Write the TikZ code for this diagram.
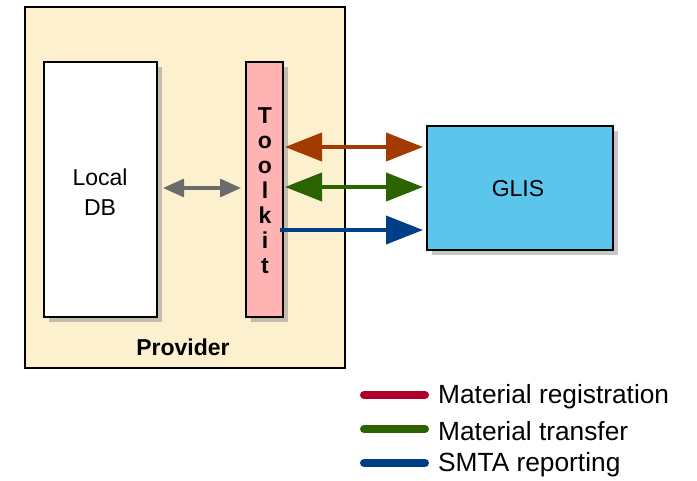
\documentclass[tikz,border=0pt]{standalone}
\usepackage{fontspec}
\setmainfont{Liberation Sans}
\usetikzlibrary{arrows.meta,shadows}
\definecolor{provfill}{HTML}{FDF0CF}
\definecolor{tkfill}{HTML}{FFB3B3}
\definecolor{glisfill}{HTML}{5BC5EC}
\definecolor{arrorange}{HTML}{A33A00}
\definecolor{arrgreen}{HTML}{2A6300}
\definecolor{arrblue}{HTML}{003F87}
\definecolor{legred}{HTML}{B0002A}
\definecolor{arrgray}{HTML}{6B6B6B}
\tikzset{bighead/.tip={Triangle[length=37pt,width=28pt]},
  smallhead/.tip={Triangle[length=21pt,width=18pt]}}
\begin{document}
\begin{tikzpicture}[x=1pt,y=-1pt,
  box/.style={draw=black,line width=1.6pt,inner sep=0pt,outer sep=0pt},
  shad/.style={drop shadow={opacity=0.45,shadow xshift=5pt,shadow yshift=-5pt}},
  lbl/.style={font=\fontsize{23}{30}\selectfont},
  flow/.style={line width=4pt},
  legline/.style={line width=8pt,line cap=round},
  legtxt/.style={anchor=west,inner sep=0pt,font=\fontsize{26.3}{30}\selectfont}]
\useasboundingbox (0,0) rectangle (697,480);
% Provider
\node[box,fill=provfill,minimum width=320pt,minimum height=361pt,anchor=north west] (prov) at (25,7) {};
\node[lbl,font=\fontsize{23}{30}\selectfont\bfseries] (provlbl) at (183,347) {Provider};
% Local DB
\node[box,fill=white,shad,minimum width=113pt,minimum height=255pt,anchor=north west] (db) at (44,62) {};
\node[lbl,align=center] (dblbl) at (100,192) {Local\\DB};
% Toolkit
\node[box,fill=tkfill,shad,minimum width=37pt,minimum height=255pt,anchor=north west] (tk) at (246,62) {};
\node[lbl,font=\fontsize{23}{25}\selectfont\bfseries,align=center] (tklbl) at (265,191) {T\\o\\o\\l\\k\\i\\t};
% GLIS
\node[box,fill=glisfill,shad,minimum width=186pt,minimum height=124pt,anchor=north west] (glis) at (427,126) {};
\node[lbl] (glislbl) at (518,189) {GLIS};
% gray arrow
\draw[arrgray,line width=3.2pt,smallhead-smallhead,shorten <=6pt,shorten >=5pt] (db.east |- {(0,188)}) -- (tk.west |- {(0,188)});
% flows
\draw[arrorange,flow,bighead-bighead,shorten <=2pt,shorten >=4pt] (tk.east |- {(0,147)}) -- (glis.west |- {(0,147)});
\draw[arrgreen,flow,bighead-bighead,shorten <=2pt,shorten >=4pt] (tk.east |- {(0,187)}) -- (glis.west |- {(0,187)});
\draw[arrblue,flow,-bighead,shorten <=-3pt,shorten >=4pt] (tk.east |- {(0,230)}) -- (glis.west |- {(0,230)});
% legend
\coordinate (l1a) at (364,395); \coordinate (l1b) at (425,395);
\coordinate (l2a) at (364,429); \coordinate (l2b) at (425,429);
\coordinate (l3a) at (364,463); \coordinate (l3b) at (425,463);
\draw[legline,legred] (l1a) -- (l1b);
\draw[legline,arrgreen] (l2a) -- (l2b);
\draw[legline,arrblue] (l3a) -- (l3b);
\node[legtxt] (t1) at (438,397) {Material registration};
\node[legtxt] (t2) at (438,431) {Material transfer};
\node[legtxt] (t3) at (438,465) {SMTA reporting};
\end{tikzpicture}
\end{document}
